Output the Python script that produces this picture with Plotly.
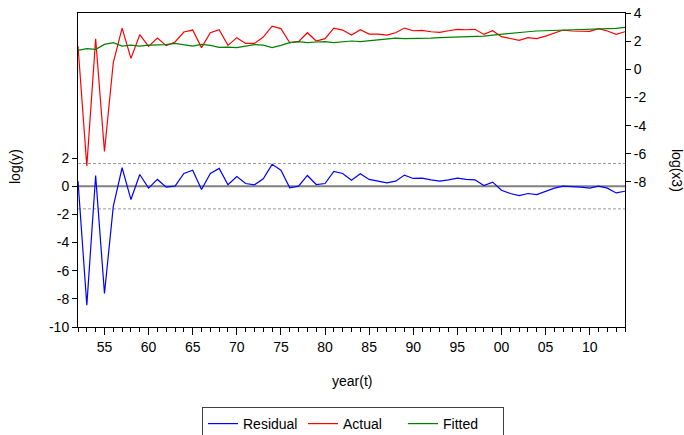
import plotly.graph_objects as go

years = list(range(1952, 2015))

actual = [1.65, -6.86, 2.17, -5.84, 0.48, 2.93, 0.78, 2.46, 1.63, 2.22,
          1.68, 1.94, 2.65, 2.79, 1.54, 2.60, 2.81, 1.70, 2.25, 1.84,
          1.84, 2.29, 3.07, 2.89, 1.89, 1.96, 2.60, 2.01, 2.18, 2.93,
          2.79, 2.43, 2.81, 2.50, 2.50, 2.43, 2.60, 2.93, 2.74, 2.77,
          2.67, 2.62, 2.74, 2.84, 2.81, 2.84, 2.48, 2.74, 2.32, 2.18,
          2.06, 2.25, 2.18, 2.36, 2.60, 2.79, 2.72, 2.72, 2.70, 2.89,
          2.72, 2.48, 2.67]

fitted = [1.35, 1.47, 1.42, 1.77, 1.89, 1.65, 1.72, 1.65, 1.72, 1.75,
          1.75, 1.84, 1.77, 1.65, 1.77, 1.70, 1.56, 1.58, 1.54, 1.65,
          1.75, 1.72, 1.54, 1.70, 1.89, 1.96, 1.89, 1.94, 1.96, 1.89,
          1.94, 2.01, 1.96, 2.03, 2.13, 2.20, 2.22, 2.18, 2.18, 2.20,
          2.22, 2.25, 2.27, 2.27, 2.32, 2.29, 2.36, 2.43, 2.50, 2.58,
          2.62, 2.67, 2.72, 2.74, 2.76, 2.77, 2.78, 2.79, 2.80, 2.84,
          2.86, 2.91, 2.98]

residual = [0.36, -8.45, 0.76, -7.62, -1.43, 1.31, -0.95, 0.83, -0.14, 0.48,
            -0.07, 0.00, 0.90, 1.14, -0.24, 0.90, 1.26, 0.10, 0.69, 0.19,
            0.10, 0.52, 1.55, 1.14, -0.12, 0.00, 0.76, 0.12, 0.19, 1.05,
            0.90, 0.43, 0.88, 0.48, 0.36, 0.24, 0.36, 0.79, 0.55, 0.57,
            0.45, 0.36, 0.45, 0.57, 0.48, 0.45, 0.05, 0.29, -0.29, -0.52,
            -0.67, -0.52, -0.60, -0.36, -0.14, 0.00, -0.02, -0.07, -0.14, 0.00,
            -0.14, -0.48, -0.36]

std_err = 1.61

left_ticks = [-10, -8, -6, -4, -2, 0, 2]
right_ticks = [-8, -6, -4, -2, 0, 2, 4]
x_major = list(range(1955, 2015, 5))
x_labels = ["%02d" % (y % 100) for y in x_major]

font = dict(family="Liberation Sans, Arial, sans-serif", size=14, color="#000000")

fig = go.Figure()
fig.add_trace(go.Scatter(x=years, y=residual, name="Residual", mode="lines",
                         line=dict(color="#0000FF", width=1.2), yaxis="y"))
fig.add_trace(go.Scatter(x=years, y=actual, name="Actual", mode="lines",
                         line=dict(color="#FF0000", width=1.2), yaxis="y2"))
fig.add_trace(go.Scatter(x=years, y=fitted, name="Fitted", mode="lines",
                         line=dict(color="#008000", width=1.2), yaxis="y2"))

fig.add_shape(type="line", xref="paper", yref="y", x0=0, x1=1, y0=0, y1=0,
              line=dict(color="#808080", width=2), layer="below")
for v in (std_err, -std_err):
    fig.add_shape(type="line", xref="paper", yref="y", x0=0, x1=1, y0=v, y1=v,
                  line=dict(color="#999999", width=1, dash="3px,2px"), layer="below")

fig.update_layout(
    width=684, height=435,
    margin=dict(l=78, r=59, t=13, b=108, autoexpand=False),
    paper_bgcolor="white", plot_bgcolor="white",
    font=font,
    showlegend=True,
    legend=dict(orientation="h", x=(202 - 78) / 547, xanchor="left",
                y=(327 - 407) / 314, yanchor="top",
                bordercolor="#404040", borderwidth=1, font=font,
                entrywidth=55, entrywidthmode="pixels",
                itemwidth=30, tracegroupgap=0),
    xaxis=dict(range=[1952, 2014], showgrid=False, zeroline=False, automargin=False,
               showline=True, linecolor="#000000", linewidth=1, mirror=True,
               tickmode="array", tickvals=x_major, ticktext=x_labels,
               ticks="outside", ticklen=7, tickcolor="#000000",
               minor=dict(tickmode="linear", tick0=1952, dtick=1, ticks="outside",
                          ticklen=4, tickcolor="#000000", showgrid=False),
               tickfont=font),
    yaxis=dict(range=[-10, 12.3], showgrid=False, zeroline=False, automargin=False,
               showline=True, linecolor="#000000", linewidth=1,
               tickmode="array", tickvals=left_ticks,
               ticktext=[str(v) for v in left_ticks],
               ticks="outside", ticklen=5, tickcolor="#000000", tickfont=font),
    yaxis2=dict(range=[-18.3, 4], overlaying="y", side="right", showgrid=False,
                zeroline=False, showline=True, linecolor="#000000", linewidth=1,
                automargin=False,
                tickmode="array", tickvals=right_ticks,
                ticktext=[str(v) for v in right_ticks],
                ticks="outside", ticklen=5, tickcolor="#000000", tickfont=font),
)

fig.add_annotation(text="log(y)", xref="paper", yref="paper",
                   x=(15 - 78) / 547, y=(327 - 167) / 314, xanchor="center", yanchor="middle",
                   textangle=-90, showarrow=False, font=font)
fig.add_annotation(text="log(x3)", xref="paper", yref="paper",
                   x=(677 - 78) / 547, y=(327 - 170) / 314, xanchor="center", yanchor="middle",
                   textangle=90, showarrow=False, font=font)
fig.add_annotation(text="year(t)", xref="paper", yref="paper",
                   x=0.5, y=(327 - 381) / 314, xanchor="center", yanchor="middle",
                   showarrow=False, font=font)

fig.write_html("out.html")
